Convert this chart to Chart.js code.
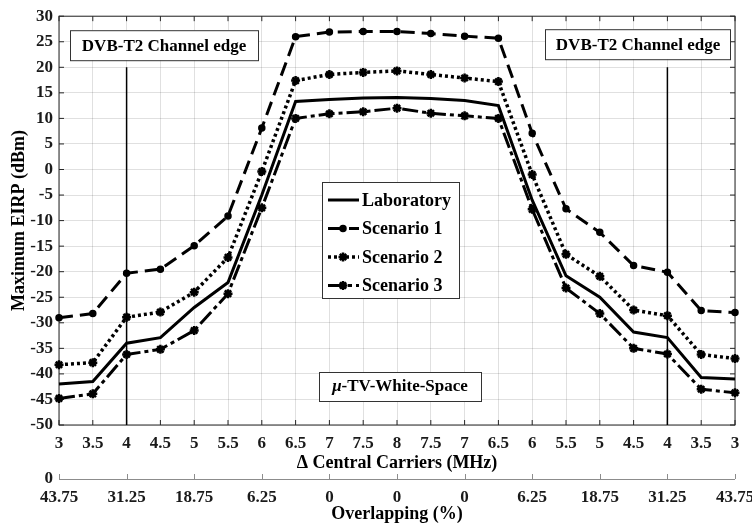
<!DOCTYPE html>
<html lang="en">
<head>
  <meta charset="UTF-8">
  <title>Maximum EIRP vs Central Carriers</title>
  <script src="https://cdn.jsdelivr.net/npm/chart.js"></script>
  <style>
    body { margin: 0; background: #fff; }
    #wrap { width: 752px; height: 525px; position: relative; }
  </style>
</head>
<body>
  <div id="wrap"><canvas id="eirpChart"></canvas></div>
  <script>
    // x categories (MHz) and the overlapping axis under them
    const carriers = ['3', '3.5', '4', '4.5', '5', '5.5', '6', '6.5', '7', '7.5', '8',
                      '7.5', '7', '6.5', '6', '5.5', '5', '4.5', '4', '3.5', '3'];
    const overlapping = ['43.75', '', '31.25', '', '18.75', '', '6.25', '', '0', '', '0',
                         '', '0', '', '6.25', '', '18.75', '', '31.25', '', '43.75'];

    const laboratory = [-42, -41.5, -34, -32.9, -27, -22.1, -5, 13.3, 13.7, 14, 14.1,
                        13.9, 13.5, 12.5, -6, -20.8, -25, -31.8, -32.9, -40.7, -41];
    const scenario1 = [-29, -28.2, -20.3, -19.5, -14.9, -9.1, 8.1, 26, 26.9, 27, 27,
                       26.6, 26.1, 25.7, 7.1, -7.7, -12.3, -18.8, -20.1, -27.6, -28];
    const scenario2 = [-38.2, -37.8, -28.9, -27.9, -24, -17.2, -0.4, 17.4, 18.6, 19, 19.3,
                       18.6, 17.9, 17.2, -1, -16.6, -20.9, -27.5, -28.6, -36.2, -37];
    const scenario3 = [-44.8, -43.9, -36.2, -35.2, -31.5, -24.3, -7.5, 10, 10.9, 11.3, 12,
                       11, 10.5, 10, -7.8, -23.2, -28.2, -35, -36.1, -43, -43.7];

    const edgeIndex = [2, 18];   // DVB-T2 channel edge (4 MHz)
    const edgeTop = 20;

    const serif = '"Liberation Serif", "Times New Roman", serif';
    const ink = '#1a1a1a';
    const gridColor = 'rgba(0,0,0,0.12)';

    Chart.defaults.font.family = serif;
    Chart.defaults.font.weight = 'bold';
    Chart.defaults.color = ink;

    function drawBox(ctx, x0, y0, x1, y1) {
      ctx.fillStyle = '#fff';
      ctx.fillRect(x0, y0, x1 - x0, y1 - y0);
      ctx.strokeStyle = '#333';
      ctx.lineWidth = 1;
      ctx.setLineDash([]);
      ctx.strokeRect(x0 + 0.5, y0 + 0.5, x1 - x0, y1 - y0);
    }

    const decor = {
      id: 'decor',
      beforeDatasetsDraw(chart) {
        const { ctx, chartArea: a, scales: { x, y } } = chart;
        ctx.save();
        // frame + inward ticks
        ctx.strokeStyle = '#262626';
        ctx.lineWidth = 1;
        ctx.strokeRect(a.left, a.top, a.right - a.left, a.bottom - a.top);
        ctx.beginPath();
        carriers.forEach((c, i) => {
          const px = x.getPixelForTick(i);
          ctx.moveTo(px, a.bottom); ctx.lineTo(px, a.bottom - 5);
          ctx.moveTo(px, a.top); ctx.lineTo(px, a.top + 5);
        });
        y.ticks.forEach((t, i) => {
          const py = y.getPixelForTick(i);
          ctx.moveTo(a.left, py); ctx.lineTo(a.left + 5, py);
          ctx.moveTo(a.right, py); ctx.lineTo(a.right - 5, py);
        });
        ctx.stroke();

        // channel edge lines
        ctx.strokeStyle = '#000';
        ctx.lineWidth = 1.5;
        ctx.beginPath();
        edgeIndex.forEach(i => {
          const px = x.getPixelForValue(i);
          ctx.moveTo(px, y.getPixelForValue(edgeTop));
          ctx.lineTo(px, a.bottom);
        });
        ctx.stroke();
        ctx.restore();
      },
      afterDatasetsDraw(chart) {
        const { ctx, chartArea: a } = chart;
        ctx.save();
        ctx.textAlign = 'center';
        ctx.textBaseline = 'middle';

        // annotation boxes
        ctx.font = 'bold 17px ' + serif;
        drawBox(ctx, a.left + 11, a.top + 14, a.left + 199, a.top + 44);
        ctx.fillStyle = '#000';
        ctx.fillText('DVB-T2 Channel edge', a.left + 105, a.top + 30);
        drawBox(ctx, a.right - 190, a.top + 13, a.right - 5, a.top + 43);
        ctx.fillStyle = '#000';
        ctx.fillText('DVB-T2 Channel edge', a.right - 97, a.top + 29);

        // mu-TV-White-Space
        drawBox(ctx, a.left + 260, a.bottom - 53, a.left + 422, a.bottom - 24);
        const mu = '\u03BC', rest = '-TV-White-Space';
        ctx.font = 'italic bold 17px ' + serif;
        const wMu = ctx.measureText(mu).width;
        ctx.font = 'bold 17px ' + serif;
        const wRest = ctx.measureText(rest).width;
        const cx = a.left + 341, cy = a.bottom - 38;
        let sx = cx - (wMu + wRest) / 2;
        ctx.textAlign = 'left';
        ctx.fillStyle = '#000';
        ctx.font = 'italic bold 17px ' + serif;
        ctx.fillText(mu, sx, cy);
        ctx.font = 'bold 17px ' + serif;
        ctx.fillText(rest, sx + wMu, cy);

        // legend
        const lx0 = 322, ly0 = 182, lx1 = 459, ly1 = 298;
        drawBox(ctx, lx0, ly0, lx1, ly1);
        ctx.font = 'bold 18px ' + serif;
        chart.data.datasets.forEach((ds, i) => {
          const ry = 200 + i * 28.5;
          ctx.strokeStyle = '#000';
          ctx.lineWidth = ds.borderWidth;
          ctx.setLineDash(ds.borderDash || []);
          ctx.beginPath();
          ctx.moveTo(328, ry); ctx.lineTo(359, ry);
          ctx.stroke();
          ctx.setLineDash([]);
          if (ds.pointRadius > 0) {
            ctx.fillStyle = '#000';
            ctx.strokeStyle = '#000';
            ctx.lineWidth = ds.pointBorderWidth;
            Chart.helpers.drawPoint(ctx, {
              pointStyle: ds.pointStyle, radius: ds.pointRadius, rotation: 0,
              borderWidth: ds.pointBorderWidth
            }, 343, ry);
          }
          ctx.fillStyle = '#000';
          ctx.fillText(ds.label, 362, ry + 1);
        });
        ctx.restore();
      },
      afterDraw(chart) {
        const { ctx, chartArea: a, scales: { x } } = chart;
        const ay = a.bottom + 54;
        ctx.save();
        ctx.strokeStyle = '#8c8c8c';
        ctx.lineWidth = 1;
        ctx.beginPath();
        ctx.moveTo(a.left, ay + 0.5); ctx.lineTo(a.right, ay + 0.5);
        overlapping.forEach((lab, i) => {
          if (lab === '') return;
          const px = Math.round(x.getPixelForTick(i)) + 0.5;
          ctx.moveTo(px, ay); ctx.lineTo(px, ay - 5);
        });
        ctx.stroke();

        ctx.fillStyle = ink;
        ctx.textBaseline = 'middle';
        ctx.font = 'bold 17px ' + serif;
        ctx.textAlign = 'right';
        ctx.fillText('0', a.left - 6, ay);
        ctx.textAlign = 'center';
        overlapping.forEach((lab, i) => {
          if (lab !== '') ctx.fillText(lab, x.getPixelForTick(i), ay + 19);
        });
        ctx.fillStyle = '#000';
        ctx.font = 'bold 18px ' + serif;
        ctx.fillText('Overlapping (%)', (a.left + a.right) / 2, ay + 35);
        ctx.restore();
      }
    };

    new Chart(document.getElementById('eirpChart').getContext('2d'), {
      type: 'line',
      data: {
        labels: carriers,
        datasets: [
          { label: 'Laboratory', data: laboratory, borderColor: '#000', borderWidth: 3,
            pointRadius: 0, borderDash: [] },
          { label: 'Scenario 1', data: scenario1, borderColor: '#000', borderWidth: 3,
            borderDash: [14, 7], pointStyle: 'circle', pointRadius: 3,
            pointBackgroundColor: '#000', pointBorderColor: '#000', pointBorderWidth: 1.5 },
          { label: 'Scenario 2', data: scenario2, borderColor: '#000', borderWidth: 3.5,
            borderDash: [3, 3], pointStyle: 'star', pointRadius: 4.5,
            pointBackgroundColor: '#000', pointBorderColor: '#000', pointBorderWidth: 2.5 },
          { label: 'Scenario 3', data: scenario3, borderColor: '#000', borderWidth: 3,
            borderDash: [16, 4, 4, 4], pointStyle: 'star', pointRadius: 4.5,
            pointBackgroundColor: '#000', pointBorderColor: '#000', pointBorderWidth: 2.5 }
        ]
      },
      options: {
        responsive: true,
        maintainAspectRatio: false,
        animation: false,
        layout: { padding: { left: 0, right: 17, top: 14, bottom: 0 } },
        elements: { line: { tension: 0, fill: false } },
        plugins: { legend: { display: false }, tooltip: { enabled: false } },
        scales: {
          x: {
            type: 'category',
            offset: false,
            grid: { color: gridColor, drawTicks: false },
            border: { display: false },
            ticks: { padding: 8, maxRotation: 0, autoSkip: false, font: { size: 17 } },
            title: { display: true, text: '\u0394 Central Carriers (MHz)', color: '#000',
                     font: { size: 18 }, padding: { top: 0, bottom: 51 } },
            afterFit: s => { s.height = 100; }
          },
          y: {
            min: -50,
            max: 30,
            grid: { color: gridColor, drawTicks: false },
            border: { display: false },
            ticks: { stepSize: 5, padding: 6, font: { size: 17 } },
            title: { display: true, text: 'Maximum EIRP (dBm)', color: '#000',
                     font: { size: 18 }, padding: { top: 9, bottom: 0 } },
            afterFit: s => { s.width = 59; }
          }
        }
      },
      plugins: [decor]
    });
  </script>
</body>
</html>
